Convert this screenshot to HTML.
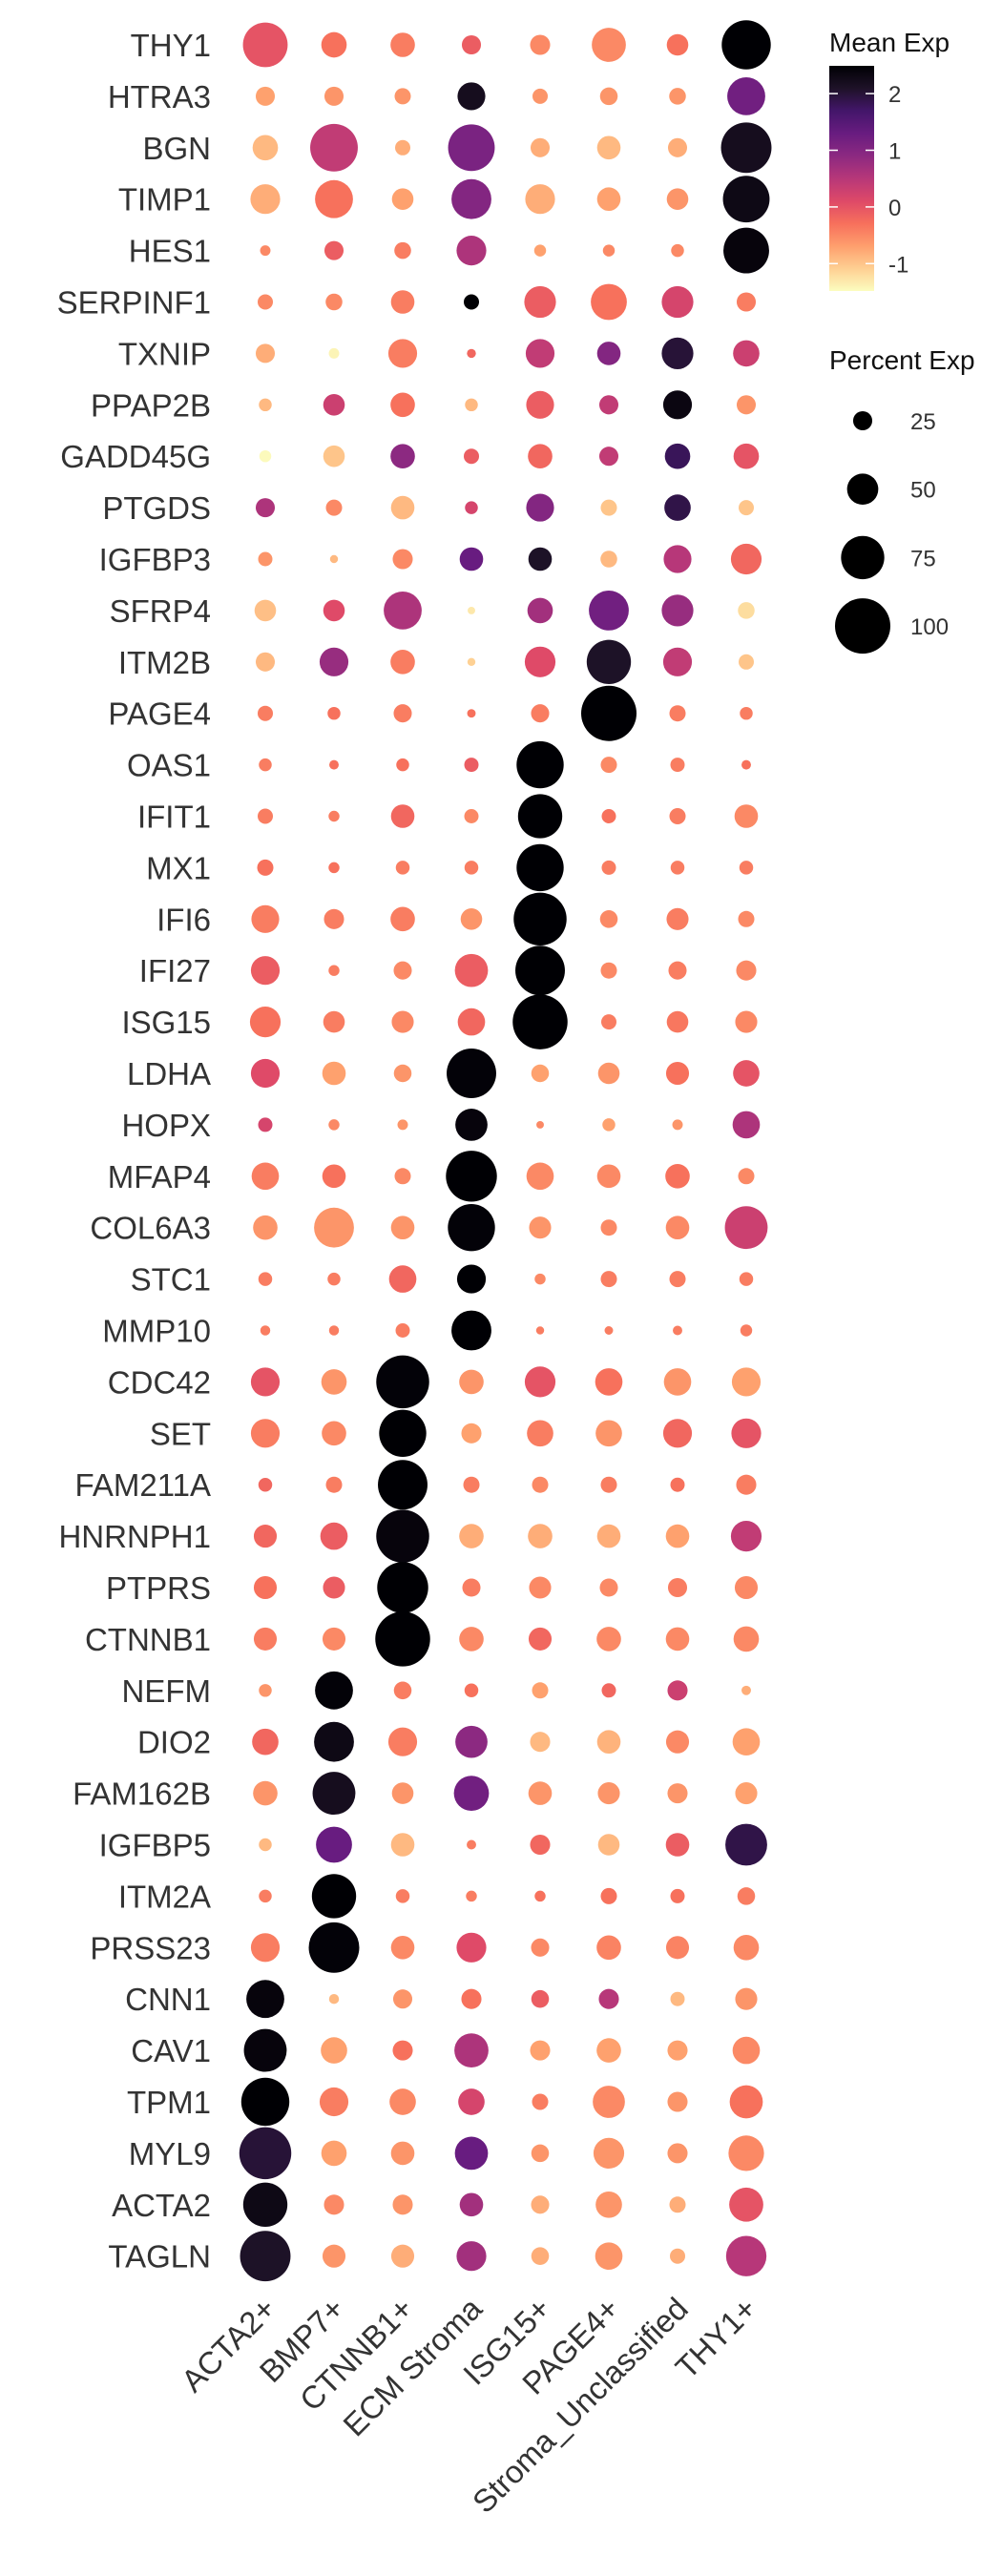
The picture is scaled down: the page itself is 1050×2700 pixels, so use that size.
<!DOCTYPE html>
<html><head><meta charset="utf-8"><style>
html,body{margin:0;padding:0;background:#fff;}
svg{display:block;font-family:"Liberation Sans",sans-serif;}
</style></head><body>
<svg id="chart" width="1050" height="2700" viewBox="0 0 1050 2700" xmlns="http://www.w3.org/2000/svg">
<defs>
<linearGradient id="magma" x1="0" y1="0" x2="0" y2="1">
<stop offset="0" stop-color="#000004"/><stop offset="0.1" stop-color="#1e1228"/><stop offset="0.2" stop-color="#43166a"/><stop offset="0.3" stop-color="#681c80"/><stop offset="0.4" stop-color="#8c2981"/><stop offset="0.5" stop-color="#b73779"/><stop offset="0.6" stop-color="#de4968"/><stop offset="0.7" stop-color="#f7705c"/><stop offset="0.8" stop-color="#fe9f6d"/><stop offset="0.9" stop-color="#fecf92"/><stop offset="1" stop-color="#fcfdbf"/>
</linearGradient>
</defs>
<g id="dots"></g>
<g id="ylabels"></g>
<g id="xlabels"></g>
<g id="legend">
<text x="869" y="54" font-size="28" fill="#111">Mean Exp</text>
<rect x="869" y="69" width="47" height="236" fill="url(#magma)"/>
<g id="cticks"></g>
<text x="869" y="387" font-size="28" fill="#111">Percent Exp</text>
<g id="sizeleg"></g>
</g>
</svg>
<script>
const genes = ["THY1","HTRA3","BGN","TIMP1","HES1","SERPINF1","TXNIP","PPAP2B","GADD45G","PTGDS","IGFBP3","SFRP4","ITM2B","PAGE4","OAS1","IFIT1","MX1","IFI6","IFI27","ISG15","LDHA","HOPX","MFAP4","COL6A3","STC1","MMP10","CDC42","SET","FAM211A","HNRNPH1","PTPRS","CTNNB1","NEFM","DIO2","FAM162B","IGFBP5","ITM2A","PRSS23","CNN1","CAV1","TPM1","MYL9","ACTA2","TAGLN"];
const clusters = ["ACTA2+","BMP7+","CTNNB1+","ECM Stroma","ISG15+","PAGE4+","Stroma_Unclassified","THY1+"];
const pctExp = [
[78,38,36,25,27,56,30,87],[25,25,19,43,17,22,20,64],[38,84,17,82,25,34,25,90],[47,64,30,68,47,34,30,82],
[7,25,20,47,10,10,12,80],[17,20,34,17,51,60,51,25],[25,7,45,4,45,34,51,40],[12,30,36,12,43,25,45,25],
[10,30,36,17,36,25,38,38],[25,19,34,12,43,19,40,17],[15,2,27,34,34,20,43,49],[30,30,64,1,38,68,51,20],
[25,45,36,2,49,77,45,17],[17,12,23,3,23,100,19,12],[12,5,12,15,83,19,15,5],[17,8,34,15,77,15,19,34],
[19,8,14,14,83,15,14,14],[43,27,36,30,95,22,31,19],[45,8,23,54,88,19,23,27],[49,30,31,42,99,17,30,31],
[45,34,22,88,22,30,33,40],[15,8,7,52,1,12,7,42],[42,34,19,91,42,34,36,19],[36,68,34,83,31,19,34,74],
[14,12,42,45,8,19,19,14],[6,6,15,68,2,3,5,10],[45,38,95,36,49,42,42,45],[45,36,83,27,40,40,45,47],
[14,19,88,19,19,19,15,27],[33,42,95,36,36,34,34,49],[33,31,91,23,31,23,25,33],[33,33,99,36,33,36,34,38],
[12,64,22,14,19,15,27,5],[40,68,45,52,27,34,33,42],[36,74,30,58,34,31,27,31],[12,60,34,5,27,30,34,72],
[12,77,14,8,8,19,15,22],[45,90,34,47,23,36,33,38],[64,6,25,27,22,27,15,31],[74,40,27,56,27,36,27,42],
[85,45,40,40,19,52,27,54],[93,38,34,54,22,49,27,59],[77,27,27,34,23,40,19,56],[90,33,33,47,22,42,17,69]];
const meanExp = [
[0.0,-0.3,-0.4,-0.1,-0.5,-0.5,-0.3,2.5],[-0.7,-0.6,-0.6,2.2,-0.6,-0.6,-0.6,1.2],[-0.9,0.4,-0.8,1.1,-0.8,-0.9,-0.8,2.2],[-0.8,-0.3,-0.7,1.0,-0.8,-0.7,-0.6,2.3],
[-0.5,-0.1,-0.4,0.6,-0.7,-0.5,-0.5,2.4],[-0.5,-0.5,-0.4,2.5,-0.1,-0.3,0.2,-0.4],[-0.8,-1.4,-0.4,-0.2,0.4,1.0,2.0,0.3],[-0.9,0.3,-0.3,-0.9,-0.1,0.4,2.35,-0.6],
[-1.45,-1.0,0.9,-0.1,-0.2,0.4,1.8,0.0],[0.6,-0.5,-0.9,0.2,1.0,-1.0,1.9,-1.0],[-0.6,-0.9,-0.5,1.3,2.1,-0.9,0.5,-0.2],[-0.95,0.1,0.6,-1.3,0.7,1.2,0.8,-1.2],
[-0.9,0.8,-0.4,-1.1,0.1,2.1,0.4,-1.0],[-0.4,-0.3,-0.4,-0.3,-0.4,2.5,-0.4,-0.4],[-0.4,-0.3,-0.3,-0.1,2.5,-0.5,-0.4,-0.3],[-0.4,-0.4,-0.2,-0.5,2.5,-0.3,-0.4,-0.5],
[-0.3,-0.3,-0.4,-0.4,2.5,-0.4,-0.4,-0.4],[-0.4,-0.4,-0.4,-0.6,2.5,-0.5,-0.4,-0.5],[-0.1,-0.4,-0.5,-0.1,2.5,-0.5,-0.4,-0.5],[-0.3,-0.4,-0.5,-0.2,2.5,-0.4,-0.35,-0.5],
[0.1,-0.7,-0.6,2.45,-0.7,-0.6,-0.3,0.0],[0.2,-0.5,-0.6,2.4,-0.5,-0.7,-0.6,0.6],[-0.4,-0.3,-0.5,2.5,-0.5,-0.5,-0.3,-0.5],[-0.6,-0.6,-0.6,2.45,-0.6,-0.5,-0.5,0.3],
[-0.4,-0.4,-0.2,2.5,-0.5,-0.4,-0.4,-0.4],[-0.4,-0.4,-0.4,2.5,-0.4,-0.4,-0.4,-0.4],[0.0,-0.6,2.45,-0.6,0.0,-0.3,-0.6,-0.7],[-0.4,-0.5,2.5,-0.7,-0.4,-0.6,-0.2,0.0],
[-0.2,-0.4,2.5,-0.4,-0.5,-0.4,-0.3,-0.4],[-0.2,-0.1,2.4,-0.8,-0.8,-0.8,-0.7,0.4],[-0.3,-0.1,2.5,-0.4,-0.5,-0.5,-0.4,-0.5],[-0.4,-0.5,2.5,-0.5,-0.2,-0.5,-0.5,-0.5],
[-0.6,2.45,-0.4,-0.3,-0.7,-0.2,0.3,-0.8],[-0.2,2.3,-0.4,0.9,-0.9,-0.85,-0.5,-0.7],[-0.6,2.2,-0.6,1.2,-0.6,-0.6,-0.6,-0.7],[-0.9,1.3,-0.9,-0.4,-0.2,-0.9,-0.1,1.9],
[-0.4,2.5,-0.4,-0.4,-0.3,-0.3,-0.3,-0.4],[-0.4,2.45,-0.5,0.1,-0.5,-0.45,-0.45,-0.5],[2.4,-0.9,-0.6,-0.3,-0.1,0.5,-0.9,-0.6],[2.4,-0.7,-0.3,0.6,-0.7,-0.7,-0.7,-0.5],
[2.5,-0.4,-0.5,0.2,-0.4,-0.5,-0.6,-0.3],[2.0,-0.7,-0.6,1.3,-0.6,-0.6,-0.6,-0.5],[2.3,-0.5,-0.6,0.7,-0.8,-0.6,-0.8,0.0],[2.1,-0.6,-0.8,0.7,-0.8,-0.6,-0.8,0.5]];
const colorTicks = [2,1,0,-1];
const sizeTicks = [25,50,75,100];

const NS="http://www.w3.org/2000/svg";
const vMax=2.49, vMin=-1.48;
const stops=[[0,"#000004"],[0.1,"#1e1228"],[0.2,"#43166a"],[0.3,"#681c80"],[0.4,"#8c2981"],[0.5,"#b73779"],[0.6,"#de4968"],[0.7,"#f7705c"],[0.8,"#fe9f6d"],[0.9,"#fecf92"],[1,"#fcfdbf"]];
function hex(h){return [1,3,5].map(i=>parseInt(h.substr(i,2),16));}
function colorOf(v){
  let t=(vMax-v)/(vMax-vMin); t=Math.max(0,Math.min(1,t));
  for(let i=0;i<stops.length-1;i++){
    if(t<=stops[i+1][0]){
      const f=(t-stops[i][0])/(stops[i+1][0]-stops[i][0]);
      const a=hex(stops[i][1]),b=hex(stops[i+1][1]);
      return "rgb("+a.map((c,k)=>Math.round(c+(b[k]-c)*f)).join(",")+")";
    }
  }
  return stops[stops.length-1][1];
}
const xScale=j=>278+j*72;
const yScale=i=>47+i*53.9;
const rScale=p=>3.7+0.253*p;
const cbY=v=>69+(vMax-v)*59.4;
function mk(tag,attrs,parent){const e=document.createElementNS(NS,tag);for(const k in attrs)e.setAttribute(k,attrs[k]);parent.appendChild(e);return e;}

const gd=document.getElementById("dots"), gy=document.getElementById("ylabels"), gx=document.getElementById("xlabels");
genes.forEach((g,i)=>{
  const t=mk("text",{x:221,y:yScale(i)+12,"font-size":33,"text-anchor":"end",fill:"#333"},gy);
  t.textContent=g;
  
  
  clusters.forEach((c,j)=>{
    const ci=mk("circle",{cx:xScale(j),cy:yScale(i),r:rScale(pctExp[i][j]),fill:colorOf(meanExp[i][j])},gd);
    
    
  });
});
clusters.forEach((c,j)=>{
  const x=xScale(j)+13, y=2422;
  const t=mk("text",{x:x,y:y,"font-size":33,"text-anchor":"end",fill:"#333",transform:"rotate(-45 "+x+" "+y+")"},gx);
  t.textContent=c;
  
  
});
const ct=document.getElementById("cticks");
colorTicks.forEach(v=>{
  const y=cbY(v);
  const a=mk("line",{x1:869,x2:878,y1:y,y2:y,stroke:"#fff","stroke-width":1.5},ct);
  
  
  const b=mk("line",{x1:907,x2:916,y1:y,y2:y,stroke:"#fff","stroke-width":1.5},ct);
  
  
  const t=mk("text",{x:931,y:y+9,"font-size":24,fill:"#333"},ct);
  t.textContent=String(v);
  
  
});
const sl=document.getElementById("sizeleg");
sizeTicks.forEach((p,k)=>{
  const y=441+k*71.7;
  const c=mk("circle",{cx:904,cy:y,r:rScale(p),fill:"#000"},sl);
  
  
  const t=mk("text",{x:954,y:y+9,"font-size":24,fill:"#333"},sl);
  t.textContent=String(p);
  
  
});
</script>
</body></html>
